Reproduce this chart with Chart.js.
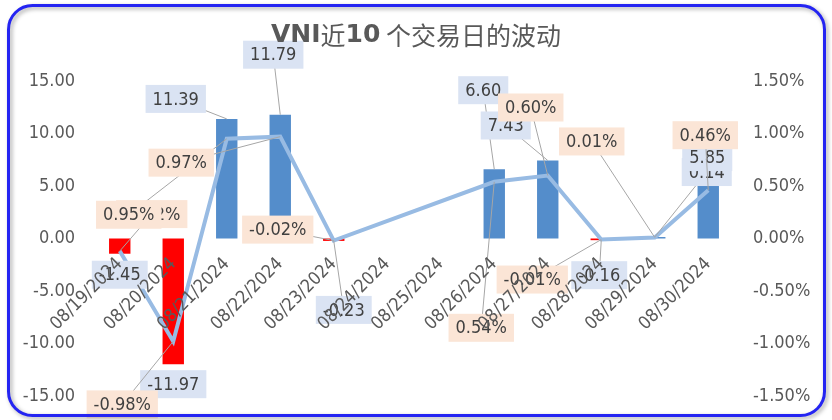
<!DOCTYPE html>
<html>
<head>
<meta charset="utf-8">
<script src="https://cdn.jsdelivr.net/npm/chart.js@4.4.1/dist/chart.umd.min.js"></script>
<style>
  html, body { margin: 0; padding: 0; background: #ffffff; }
</style>
</head>
<body>
<canvas id="chart" width="832" height="420"></canvas>
<script>
// Datos
const categories = ["08/19/2024", "08/20/2024", "08/21/2024", "08/22/2024", "08/23/2024", "08/24/2024",
                    "08/25/2024", "08/26/2024", "08/27/2024", "08/28/2024", "08/29/2024", "08/30/2024"];
const pointsChange = [-1.45, -11.97, 11.39, 11.79, -0.23, null, null, 6.60, 7.43, -0.16, 0.14, 5.85];
const pctChange = [-0.12, -0.98, 0.95, 0.97, -0.02, null, null, 0.54, 0.60, -0.01, 0.01, 0.46];
const leftRange = [-15, 15, 5];
const rightRange = [-1.5, 1.5, 0.5];
const titleParts = [["VNI", "bold"], ["近", "normal"], ["10", "bold"], [" 个交易日的波动", "normal"]];

// Desplazamiento de las etiquetas respecto a su punto (como en Excel)
const barLabelOffsets = [[0, 21], [0, 20], [-51, -20], [-7, -60], [10, 69], null, null,
                         [-11, -79], [-42, -35], [-2, 35], [52, -65], [-1, -20]];
const pctLabelOffsets = [[32, -37], [-51, 63], [-98, 76], [-99, 26], [-56, -11], null, null,
                         [-13, 146], [-17, -68], [-69, 40], [-63, -96], [-3, -55]];

const FONT = "'DejaVu Sans Condensed', 'DejaVu Sans', sans-serif";
const TICK_COLOR = "#595959";

const barColors = pointsChange.map(v => (v !== null && v < 0) ? "#FF0000" : "#548DCB");

// Etiquetas con caja y líneas guía
const labelSeries = [
    { index: 0, values: pointsChange, offsets: barLabelOffsets, bg: "#DAE3F3", format: v => v.toFixed(2) },
    { index: 1, values: pctChange, offsets: pctLabelOffsets, bg: "#FBE5D6", format: v => v.toFixed(2) + "%" }
];

const dataLabels = {
    id: "dataLabels",
    afterDatasetsDraw(chart) {
        const ctx = chart.ctx;
        ctx.save();
        ctx.font = "18px " + FONT;
        ctx.textAlign = "center";
        ctx.textBaseline = "middle";
        labelSeries.forEach(s => {
            const meta = chart.getDatasetMeta(s.index);
            const boxes = [];
            s.values.forEach((v, i) => {
                if (v === null || !s.offsets[i]) return;
                const el = meta.data[i];
                const text = s.format(v);
                const w = ctx.measureText(text).width + 14;
                const h = 28;
                const cx = el.x + s.offsets[i][0];
                const cy = el.y + s.offsets[i][1];
                boxes.push({ text, x: cx - w / 2, y: cy - h / 2, w, h, ax: el.x, ay: el.y, cx, cy });
            });
            // líneas guía
            ctx.strokeStyle = "#A6A6A6";
            ctx.lineWidth = 1;
            boxes.forEach(b => {
                const dx = Math.max(b.x - b.ax, 0, b.ax - (b.x + b.w));
                const dy = Math.max(b.y - b.ay, 0, b.ay - (b.y + b.h));
                if (Math.hypot(dx, dy) < 8) return;
                ctx.beginPath();
                ctx.moveTo(b.ax, b.ay);
                ctx.lineTo(b.cx, b.cy);
                ctx.stroke();
            });
            boxes.forEach(b => {
                ctx.fillStyle = s.bg;
                ctx.fillRect(b.x, b.y, b.w, b.h);
                ctx.fillStyle = "#404040";
                ctx.fillText(b.text, b.cx, b.cy + 1);
            });
        });
        ctx.restore();
    }
};

// Título y marco azul
const frameAndTitle = {
    id: "frameAndTitle",
    afterDraw(chart) {
        const ctx = chart.ctx;
        ctx.save();
        const fontFor = weight => weight === "bold"
            ? "bold 25px 'DejaVu Sans', 'Noto Sans CJK SC', sans-serif"
            : "25px 'Noto Sans CJK SC', 'DejaVu Sans', sans-serif";
        let total = 0;
        titleParts.forEach(p => { ctx.font = fontFor(p[1]); total += ctx.measureText(p[0]).width; });
        let x = chart.width / 2 - total / 2;
        ctx.fillStyle = TICK_COLOR;
        ctx.textAlign = "left";
        ctx.textBaseline = "middle";
        titleParts.forEach(p => {
            ctx.font = fontFor(p[1]);
            ctx.fillText(p[0], x, 35);
            x += ctx.measureText(p[0]).width;
        });

        ctx.shadowColor = "rgba(0,0,0,0.35)";
        ctx.shadowBlur = 4;
        ctx.shadowOffsetX = 2;
        ctx.shadowOffsetY = 2;
        ctx.strokeStyle = "#2424F2";
        ctx.lineWidth = 3;
        ctx.beginPath();
        ctx.roundRect(8.5, 5.5, 816, 410, 24);
        ctx.stroke();
        ctx.restore();
    }
};

const tickFont = { family: FONT, size: 18 };

// Ancho fijo de los ejes y sin relleno extra arriba/abajo
const fixAxis = width => s => {
    s.width = width;
    s.paddingTop = 10;
    s.paddingBottom = 10;
};

new Chart(document.getElementById("chart"), {
    type: "bar",
    data: {
        labels: categories,
        datasets: [
            {
                type: "bar",
                label: "Điểm",
                data: pointsChange,
                yAxisID: "y",
                backgroundColor: barColors,
                barPercentage: 0.4,
                categoryPercentage: 1.0,
                order: 1
            },
            {
                type: "line",
                label: "%",
                data: pctChange,
                yAxisID: "y1",
                borderColor: "#98BBE3",
                borderWidth: 4,
                pointRadius: 0,
                tension: 0,
                spanGaps: true,
                order: 0
            }
        ]
    },
    options: {
        responsive: false,
        animation: false,
        layout: { padding: { left: 23, right: 19, top: 81, bottom: 24 } },
        plugins: {
            legend: { display: false },
            tooltip: { enabled: false },
            title: { display: false }
        },
        scales: {
            x: {
                position: { y: 0 },
                grid: { display: false, drawTicks: false },
                border: { display: false },
                ticks: {
                    z: 1,
                    autoSkip: false,
                    minRotation: 45,
                    maxRotation: 45,
                    padding: 15,
                    color: TICK_COLOR,
                    font: tickFont
                }
            },
            y: {
                position: "left",
                min: leftRange[0],
                max: leftRange[1],
                grid: { display: false, drawTicks: false },
                border: { display: false },
                ticks: {
                    stepSize: leftRange[2],
                    padding: 18,
                    color: TICK_COLOR,
                    font: tickFont,
                    callback: v => v.toFixed(2)
                },
                afterFit: fixAxis(70)
            },
            y1: {
                position: "right",
                min: rightRange[0],
                max: rightRange[1],
                grid: { display: false, drawTicks: false },
                border: { display: false },
                ticks: {
                    stepSize: rightRange[2],
                    padding: 18,
                    color: TICK_COLOR,
                    font: tickFont,
                    callback: v => v.toFixed(2) + "%"
                },
                afterFit: fixAxis(78)
            }
        }
    },
    plugins: [dataLabels, frameAndTitle]
});
</script>
</body>
</html>
